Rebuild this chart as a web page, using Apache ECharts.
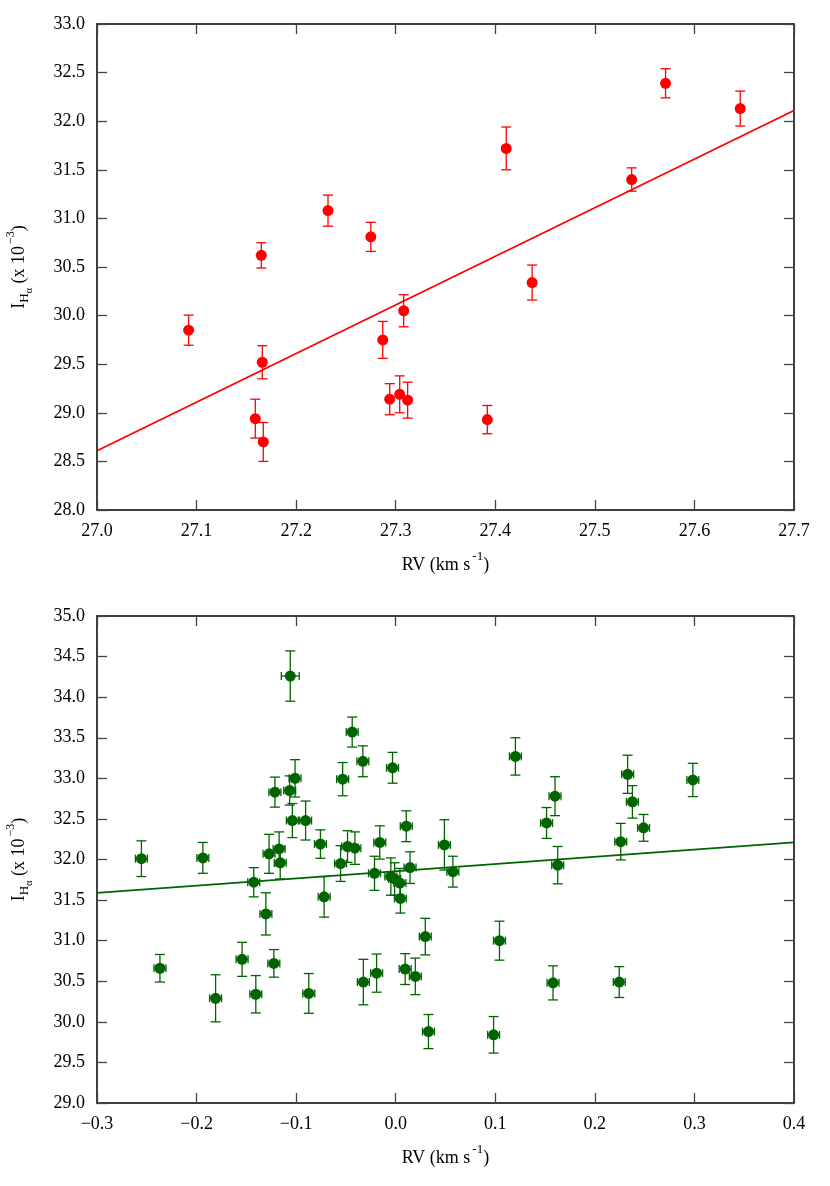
<!DOCTYPE html>
<html>
<head>
<meta charset="utf-8">
<script src="https://cdn.jsdelivr.net/npm/echarts@6/dist/echarts.min.js"></script>
<style>
  html, body { margin: 0; padding: 0; background: #fff; }
  #chart { width: 830px; height: 1186px; }
</style>
</head>
<body>
<div id="chart"></div>
<script>
// top panel: RV vs I_Halpha
const topRV  = [27.092, 27.159, 27.165, 27.166, 27.167, 27.232, 27.275, 27.287, 27.294, 27.304, 27.308, 27.312, 27.392, 27.411, 27.437, 27.537, 27.571, 27.646]
const topI   = [29.85, 28.94, 30.62, 29.52, 28.70, 31.08, 30.81, 29.75, 29.14, 29.19, 30.05, 29.13, 28.93, 31.72, 30.34, 31.40, 32.39, 32.13]
const topErr = [0.155, 0.20, 0.13, 0.17, 0.20, 0.16, 0.15, 0.19, 0.16, 0.19, 0.165, 0.185, 0.145, 0.22, 0.18, 0.12, 0.15, 0.18]
const topFitX = [27.0, 27.7]
const topFitY = [28.61, 32.11]

// bottom panel
const botRV = [-0.2554, -0.2368, -0.1937, -0.1809, -0.1543, -0.1426, -0.1405, -0.1304, -0.1272, -0.1224, -0.1213, -0.1171, -0.1160,
  -0.1065, -0.1059, -0.1038, -0.1011, -0.0905, -0.0873, -0.0756, -0.0719, -0.0554, -0.0533, -0.0484, -0.0437, -0.0410, -0.0330,
  -0.0325, -0.0213, -0.0192, -0.0160, -0.0049, -0.0032, -0.0011, 0.0042, 0.0047, 0.0095, 0.0106, 0.0144, 0.0197, 0.0297, 0.0329,
  0.0489, 0.0574, 0.0983, 0.1042, 0.1202, 0.1515, 0.1580, 0.1600, 0.1627, 0.2245, 0.2260, 0.2329, 0.2377, 0.2489, 0.2984]
const botI = [32.01, 30.66, 32.02, 30.29, 30.77, 31.72, 30.34, 31.33, 32.07, 30.72, 32.83, 32.13, 31.96,
  32.85, 34.26, 32.48, 33.00, 32.48, 30.35, 32.19, 31.54, 31.95, 32.99, 32.16, 33.57, 32.14, 33.21,
  30.49, 31.83, 30.60, 32.21, 31.79, 33.13, 31.76, 31.71, 31.52, 30.65, 32.41, 31.90, 30.56, 31.05, 29.88,
  32.18, 31.85, 29.84, 31.00, 33.27, 32.45, 30.48, 32.78, 31.93, 30.49, 32.22, 33.05, 32.71, 32.39, 32.98]
const botErr = [0.22, 0.17, 0.19, 0.29, 0.21, 0.18, 0.23, 0.26, 0.24, 0.17, 0.185, 0.21, 0.20,
  0.18, 0.31, 0.21, 0.23, 0.24, 0.245, 0.175, 0.25, 0.22, 0.205, 0.195, 0.185, 0.20, 0.19,
  0.28, 0.21, 0.235, 0.205, 0.23, 0.19, 0.20, 0.18, 0.18, 0.19, 0.19, 0.195, 0.225, 0.225, 0.21,
  0.31, 0.19, 0.225, 0.24, 0.23, 0.19, 0.21, 0.24, 0.23, 0.19, 0.225, 0.235, 0.20, 0.165, 0.205]
const botRVErr = [0.006, 0.006, 0.006, 0.006, 0.006, 0.006, 0.006, 0.006, 0.006, 0.006, 0.006, 0.006, 0.006,
  0.006, 0.009, 0.006, 0.006, 0.006, 0.006, 0.006, 0.006, 0.006, 0.006, 0.006, 0.006, 0.006, 0.006,
  0.006, 0.006, 0.006, 0.006, 0.006, 0.006, 0.006, 0.006, 0.006, 0.006, 0.006, 0.006, 0.006, 0.006, 0.006,
  0.006, 0.006, 0.006, 0.006, 0.006, 0.006, 0.006, 0.006, 0.006, 0.006, 0.006, 0.006, 0.006, 0.006, 0.006]
const botFitX = [-0.3, 0.4]
const botFitY = [31.59, 32.21]

const RED = '#ff0000'
const GREEN = '#006400'
const FONT = '"Liberation Serif", "DejaVu Serif", serif'

const chart = echarts.init(document.getElementById('chart'), null, { renderer: 'canvas' })

const fmtNum = v => (v < -1e-9 ? '\u2212' : '') + Math.abs(v).toFixed(1)

const errRender = (color, cap) => (params, api) => {
  const x = api.value(0), y = api.value(1), ey = api.value(2), ex = api.value(3) || 0
  const st = { stroke: color, lineWidth: 1.3 }
  const hi = api.coord([x, y + ey]), lo = api.coord([x, y - ey])
  const kids = [
    { type: 'line', shape: { x1: hi[0], y1: hi[1], x2: lo[0], y2: lo[1] }, style: st },
    { type: 'line', shape: { x1: hi[0] - cap, y1: hi[1], x2: hi[0] + cap, y2: hi[1] }, style: st },
    { type: 'line', shape: { x1: lo[0] - cap, y1: lo[1], x2: lo[0] + cap, y2: lo[1] }, style: st },
  ]
  if (ex) {
    const l = api.coord([x - ex, y]), r = api.coord([x + ex, y])
    kids.push(
      { type: 'line', shape: { x1: l[0], y1: l[1], x2: r[0], y2: r[1] }, style: st },
      { type: 'line', shape: { x1: l[0], y1: l[1] - 4, x2: l[0], y2: l[1] + 4 }, style: st },
      { type: 'line', shape: { x1: r[0], y1: r[1] - 4, x2: r[0], y2: r[1] + 4 }, style: st },
    )
  }
  return { type: 'group', children: kids }
}

const line = { onZero: false, lineStyle: { color: '#000', width: 1.5 } }
const tick = { inside: true, length: 10, lineStyle: { color: '#444', width: 1.3 } }
const label = { color: '#000', fontFamily: FONT, fontSize: 18 }

const xName = {
  name: '{n|RV (km s}{sup|-1}{n|)}',
  nameLocation: 'middle',
  nameGap: 40,
  nameTextStyle: {
    rich: {
      n: { fontFamily: FONT, fontSize: 18, color: '#000', lineHeight: 24, verticalAlign: 'bottom' },
      sup: { fontFamily: FONT, fontSize: 13, color: '#000', lineHeight: 13, verticalAlign: 'top', padding: [0, 0, 0, 2] },
    },
  },
}
const yName = {
  name: '{i|I}{sub|H}{ss|\u03b1}{n| (x 10}{sup|\u22123}{n|)}',
  nameLocation: 'middle',
  nameRotate: 90,
  nameGap: 63,
  nameTextStyle: {
    rich: {
      i: { fontFamily: FONT, fontSize: 18, color: '#000', lineHeight: 30, verticalAlign: 'middle' },
      n: { fontFamily: FONT, fontSize: 18, color: '#000', lineHeight: 30, verticalAlign: 'middle' },
      sub: { fontFamily: FONT, fontSize: 13, color: '#000', lineHeight: 13, verticalAlign: 'bottom', padding: [0, 0, 3, 0] },
      ss: { fontFamily: FONT, fontSize: 10, color: '#000', lineHeight: 10, verticalAlign: 'bottom' },
      sup: { fontFamily: FONT, fontSize: 12, color: '#000', lineHeight: 12, verticalAlign: 'top', padding: [1, 0, 0, 2] },
    },
  },
}

const xAxisBase = (grid, min, max, pos, show) => ({
  type: 'value', gridIndex: grid, min, max, interval: 0.1, position: pos,
  axisLine: line, axisTick: tick, splitLine: { show: false },
  axisLabel: show ? { ...label, margin: 12, formatter: fmtNum } : { show: false },
})
const yAxisBase = (grid, min, max, pos, show) => ({
  type: 'value', gridIndex: grid, min, max, interval: 0.5, position: pos,
  axisLine: line, axisTick: tick, splitLine: { show: false },
  axisLabel: show ? { ...label, margin: 12, formatter: v => v.toFixed(1) } : { show: false },
})

chart.setOption({
  animation: false,
  backgroundColor: '#fff',
  grid: [
    { left: 97, top: 24, width: 697, height: 486, containLabel: false, outerBoundsMode: 'none' },
    { left: 97, top: 616, width: 697, height: 487, containLabel: false, outerBoundsMode: 'none' },
  ],
  xAxis: [
    { ...xAxisBase(0, 27.0, 27.7, 'bottom', true), ...xName },
    xAxisBase(0, 27.0, 27.7, 'top', false),
    { ...xAxisBase(1, -0.3, 0.4, 'bottom', true), ...xName },
    xAxisBase(1, -0.3, 0.4, 'top', false),
  ],
  yAxis: [
    { ...yAxisBase(0, 28, 33, 'left', true), ...yName },
    yAxisBase(0, 28, 33, 'right', false),
    { ...yAxisBase(1, 29, 35, 'left', true), ...yName },
    yAxisBase(1, 29, 35, 'right', false),
  ],
  series: [
    {
      type: 'line', xAxisIndex: 0, yAxisIndex: 0, showSymbol: false, z: 2,
      data: topFitX.map((x, i) => [x, topFitY[i]]),
      lineStyle: { color: RED, width: 1.8 },
    },
    {
      type: 'custom', xAxisIndex: 0, yAxisIndex: 0, z: 3,
      renderItem: errRender(RED, 5),
      encode: { x: 0, y: 1 },
      data: topRV.map((x, i) => [x, topI[i], topErr[i], 0]),
    },
    {
      type: 'scatter', xAxisIndex: 0, yAxisIndex: 0, z: 4,
      symbolSize: 11, itemStyle: { color: RED, opacity: 1 },
      data: topRV.map((x, i) => [x, topI[i]]),
    },
    {
      type: 'line', xAxisIndex: 2, yAxisIndex: 2, showSymbol: false, z: 2,
      data: botFitX.map((x, i) => [x, botFitY[i]]),
      lineStyle: { color: GREEN, width: 1.8 },
    },
    {
      type: 'custom', xAxisIndex: 2, yAxisIndex: 2, z: 3,
      renderItem: errRender(GREEN, 5),
      encode: { x: 0, y: 1 },
      data: botRV.map((x, i) => [x, botI[i], botErr[i], botRVErr[i]]),
    },
    {
      type: 'scatter', xAxisIndex: 2, yAxisIndex: 2, z: 4,
      symbolSize: 11, itemStyle: { color: GREEN, opacity: 1 },
      data: botRV.map((x, i) => [x, botI[i]]),
    },
  ],
})
</script>
</body>
</html>
